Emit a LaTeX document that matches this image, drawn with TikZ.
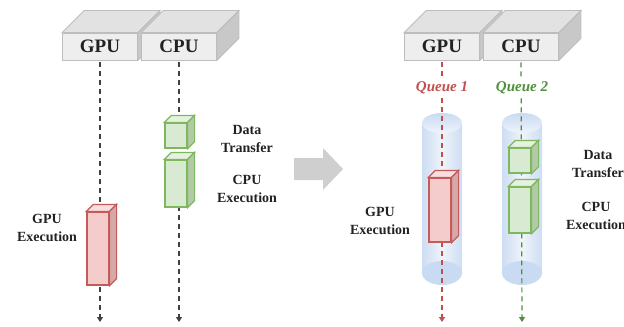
\documentclass[tikz,border=0pt]{standalone}
\usepackage{fontspec}
\setmainfont{Liberation Serif}
\usetikzlibrary{positioning,arrows.meta,calc}
\definecolor{hdrFront}{HTML}{EEEEEE}
\definecolor{hdrTop}{HTML}{E2E2E2}
\definecolor{hdrSide}{HTML}{C8C8C8}
\definecolor{hdrLine}{HTML}{BDBDBD}
\definecolor{gpuFront}{HTML}{F4CCCC}
\definecolor{gpuTop}{HTML}{F8DEDE}
\definecolor{gpuSide}{HTML}{D6A9A9}
\definecolor{gpuLine}{HTML}{C55A5A}
\definecolor{cpuFront}{HTML}{D9EAD3}
\definecolor{cpuTop}{HTML}{E6F1E0}
\definecolor{cpuSide}{HTML}{B3C9A7}
\definecolor{cpuLine}{HTML}{7DB85F}
\definecolor{queueRed}{HTML}{C0504D}
\definecolor{queueGreen}{HTML}{4F8F3A}
\definecolor{lineDark}{HTML}{404040}
\definecolor{labelBlack}{HTML}{222222}
\definecolor{cylEdge}{HTML}{CDDDF2}
\definecolor{cylMid}{HTML}{EFF4FB}
\definecolor{cylCap}{HTML}{C9DBF2}
\definecolor{arrowGray}{HTML}{CFCFCF}
\tikzset{
    hdrbox/.style={draw=hdrLine,fill=hdrFront,line width=0.4pt,inner sep=0pt,
        minimum width=37.5pt,minimum height=13.5pt,text=labelBlack,
        font=\fontsize{9.5}{11}\selectfont\bfseries},
    barbox/.style={line width=0.6pt,inner sep=0pt,minimum width=11pt},
    tag/.style={align=center,text=labelBlack,
        font=\fontsize{7}{9}\selectfont\bfseries},
    queue/.style={fill=white,inner sep=1pt,
        font=\fontsize{7.5}{9}\selectfont\bfseries\itshape},
    timeline/.style={dash pattern=on 2.5pt off 2pt,line width=0.6pt,
        -{Triangle[width=3pt,length=2.5pt]}}
}
\begin{document}
\begin{tikzpicture}[x=0.5pt,y=-0.5pt]
    \useasboundingbox (0,0) rectangle (624,326);

    % headers with top and side faces
    \foreach \n/\t/\x in {gpuL/GPU/100,cpuL/CPU/179,gpuR/GPU/442,cpuR/CPU/521}{
        \node[hdrbox] (\n) at (\x,46.5) {\t};
        \filldraw[draw=hdrLine,fill=hdrTop,line width=0.4pt] (\n.north west) -- ++(22,-22)
            -- ($(\n.north east)+(22,-22)$) -- (\n.north east) -- cycle;
        \filldraw[draw=hdrLine,fill=hdrSide,line width=0.4pt] (\n.north east) -- ++(22,-22)
            -- ($(\n.south east)+(22,-22)$) -- (\n.south east) -- cycle;
    }

    % queues on the right
    \foreach \x in {442,522}{
        \shade[left color=cylEdge,right color=cylEdge,middle color=cylMid]
            (\x-20,123) rectangle (\x+20,273);
        \shade[top color=cylCap,bottom color=cylMid] (\x,123) ellipse [x radius=20,y radius=10];
        \fill[cylCap] (\x,273) ellipse [x radius=20,y radius=12];
    }

    % time lines
    \coordinate (gpuLend) at (100,322);
    \coordinate (cpuLend) at (179,322);
    \coordinate (gpuRend) at (442,322);
    \coordinate (cpuRend) at (522,322);
    \draw[timeline,lineDark] ($(gpuL.south)+(0,2)$) -- (gpuLend);
    \draw[timeline,lineDark] ($(cpuL.south)+(0,2)$) -- (cpuLend);
    \draw[timeline,queueRed] ($(gpuR.south)+(0,2)$) -- (gpuRend);
    \draw[timeline,queueGreen] ($(cpuR.south)+(0,2)$) -- (cpuRend);

    \node[queue,text=queueRed] (q1) at (442,88) {Queue 1};
    \node[queue,text=queueGreen] (q2) at (522,88) {Queue 2};

    % work blocks
    \foreach \n/\x/\y/\h/\k in {exeL/98/248.5/36.5/gpu,xferL/176/135.5/12.5/cpu,
            runL/176/183.5/23.5/cpu,exeR/440/210/32/gpu,xferR/520/160.5/12.5/cpu,
            runR/520/210/23/cpu}{
        \node[barbox,draw=\k Line,fill=\k Front,minimum height=\h pt] (\n) at (\x,\y) {};
        \filldraw[draw=\k Line,fill=\k Top,line width=0.6pt] (\n.north west) -- ++(7,-7)
            -- ($(\n.north east)+(7,-7)$) -- (\n.north east) -- cycle;
        \filldraw[draw=\k Line,fill=\k Side,line width=0.6pt] (\n.north east) -- ++(7,-7)
            -- ($(\n.south east)+(7,-7)$) -- (\n.south east) -- cycle;
    }

    % labels
    \node[tag] (gpuExecL) at (47,228) {GPU\\Execution};
    \node[tag] (xferTagL) at (247,138.5) {Data\\Transfer};
    \node[tag] (cpuExecL) at (247,189) {CPU\\Execution};
    \node[tag] (gpuExecR) at (380,220.5) {GPU\\Execution};
    \node[tag] (xferTagR) at (598,163.5) {Data\\Transfer};
    \node[tag] (cpuExecR) at (596,215.5) {CPU\\Execution};

    % big arrow between the two panels
    \fill[arrowGray] (294,158) -- (323,158) -- (323,148) -- (343,169)
        -- (323,190) -- (323,180) -- (294,180) -- cycle;
\end{tikzpicture}
\end{document}
